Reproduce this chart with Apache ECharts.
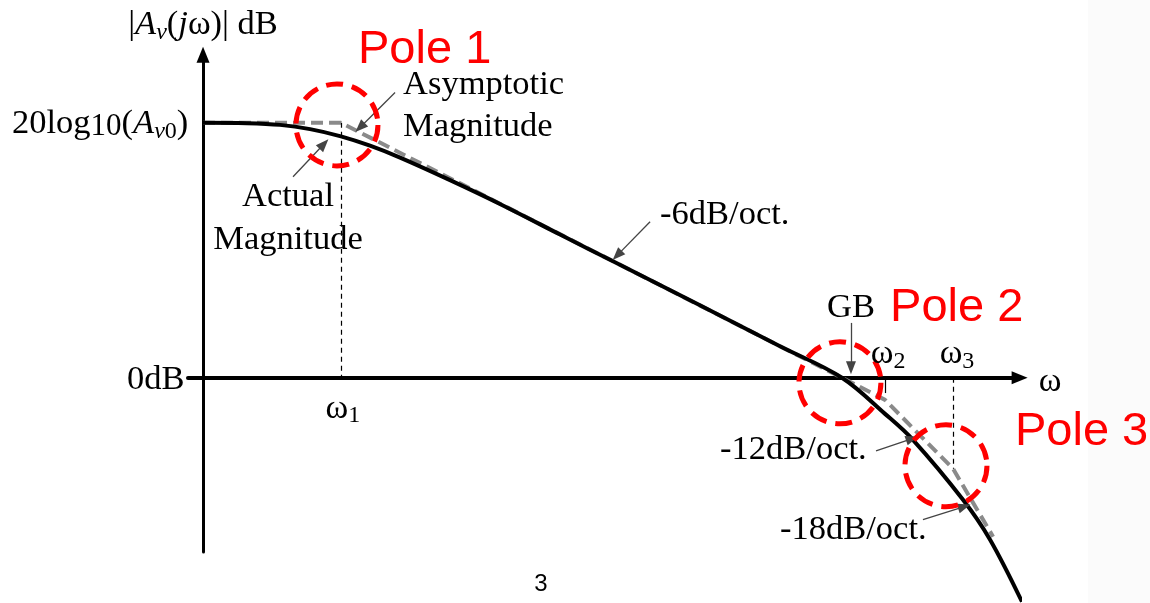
<!DOCTYPE html>
<html>
<head>
<meta charset="utf-8">
<script src="https://cdn.jsdelivr.net/npm/echarts@6/dist/echarts.min.js"></script>
<style>
  html, body { margin: 0; padding: 0; background: #fff; }
  #chart { width: 1150px; height: 603px; }
</style>
</head>
<body>
<div id="chart"></div>
<script>
// Bode magnitude sketch of a three-pole amplifier.
// x = log10(ω) (the |A| axis sits at ω = 1), y = gain in dB.

// actual magnitude curve
const logW     = [0, 0.263, 0.461, 0.641, 0.826, 1.0, 1.18, 1.479, 1.778, 2.138, 2.455, 2.958, 3.455, 3.826, 4.084, 4.251, 4.551, 4.713, 4.904];
const actualDb = [60, 59.9, 59.5, 58.5, 56.8, 54.6, 51.8, 46.5, 40.9, 33.7, 27.4, 17.4, 7.4, 0, -8.5, -14.6, -28.7, -38.1, -52.7];

// straight-line asymptote: flat, then -6, -12, -18 dB/oct
const asymLogW = [0, 0.826, 3.826, 4.084, 4.491, 4.731];
const asymDb   = [60, 60, 0, -5.2, -21.4, -37.4];

// pole frequencies and the asymptote level at each corner
const poleNames    = ['ω1', 'ω2', 'ω3'];
const poleLogW     = [0.826, 4.084, 4.491];
const poleCornerDb = [60, -5.2, -21.4];

// highlighted regions around each pole
const poleTags   = ['Pole 1', 'Pole 2', 'Pole 3'];
const ringLogW   = [0.802, 3.814, 4.449];
const ringDb     = [59.5, -1.2, -20.7];

const av0Db = 60;
const gbLogW = 3.826;
const slopeTags = ['-6dB/oct.', '-12dB/oct.', '-18dB/oct.'];

const SERIF = '"Liberation Serif", "Times New Roman", serif';
const SANS = '"Liberation Sans", Arial, sans-serif';
const INK = '#000';
const RED = '#ff0000';

const richSerif = {
  n:  { fontFamily: SERIF, fontSize: 34.5, color: INK, verticalAlign: 'top' },
  i:  { fontFamily: SERIF, fontSize: 34.5, color: INK, fontStyle: 'italic', verticalAlign: 'top' },
  s:  { fontFamily: SERIF, fontSize: 24, color: INK, verticalAlign: 'top', padding: [13, 0, 0, 0] },
  is: { fontFamily: SERIF, fontSize: 24, color: INK, fontStyle: 'italic', verticalAlign: 'top', padding: [13, 0, 0, 0] },
  d:  { fontFamily: SERIF, fontSize: 31, color: INK, verticalAlign: 'top', padding: [5, 0, 0, 0] }
};

function note(x, y, text, align, extra) {
  return {
    value: [x, y],
    label: Object.assign({
      show: true,
      position: 'inside',
      align: align || 'center',
      verticalAlign: 'middle',
      formatter: text,
      fontFamily: SERIF,
      fontSize: 34.5,
      color: INK,
      opacity: 1,
      rich: richSerif
    }, extra || {})
  };
}

const poleStyle = { fontFamily: SANS, fontSize: 47, color: RED, rich: {} };

const notes = [
  note(0, 82.8, '{n||}{i|A}{is|v}{n|(}{i|j}{n|ω)| dB}'),
  note(-1.144, 59.5, '{n|20log}{d|10}{n|(}{i|A}{is|v}{s|0}{n|)}', 'left'),
  note(-0.455, -0.5, '{n|0dB}', 'left'),
  note(1.198, 68.9, '{n|Asymptotic}', 'left'),
  note(1.198, 59.1, '{n|Magnitude}', 'left'),
  note(0.509, 42.6, '{n|Actual}'),
  note(0.509, 32.5, '{n|Magnitude}'),
  note(2.737, 38.4, '{n|' + slopeTags[0] + '}', 'left'),
  note(gbLogW + 0.054, 16.5, '{n|GB}'),
  note(3.096, -16.9, '{n|' + slopeTags[1] + '}', 'left'),
  note(3.455, -35.8, '{n|' + slopeTags[2] + '}', 'left'),
  note(poleLogW[0] + 0.012, -7.5, '{n|ω}{s|1}'),
  note(poleLogW[1] + 0.018, 5.4, '{n|ω}{s|2}'),
  note(poleLogW[2] + 0.024, 5.4, '{n|ω}{s|3}'),
  note(5.072, -0.9, '{n|ω}'),
  note(0.928, 77.2, poleTags[0], 'left', poleStyle),
  note(4.114, 16.5, poleTags[1], 'left', poleStyle),
  note(4.862, -12.7, poleTags[2], 'left', poleStyle),
  note(2.024, -48.7, '3', 'center', { fontFamily: SANS, fontSize: 24, color: '#000', rich: {} })
];

// thin leader arrows from the captions to the curves
const pointer = (x1, y1, x2, y2) => [{ coord: [x1, y1] }, { coord: [x2, y2] }];
const pointers = [
  pointer(1.150, 67.1, 0.940, 58.9),   // Asymptotic Magnitude
  pointer(0.539, 47.3, 0.724, 55.0),   // Actual Magnitude
  pointer(2.677, 36.7, 2.480, 28.8),   // -6dB/oct.
  pointer(3.880, 12.9, 3.880, 2.35),   // GB
  pointer(4.030, -17.2, 4.247, -14.3), // -12dB/oct.
  pointer(4.311, -33.4, 4.559, -30.3)  // -18dB/oct.
];

// vertical guides from the axis to each asymptote corner
const guides = poleLogW.map((w, k) => {
  const top = k === 0 ? poleCornerDb[k] : 0;
  const bottom = k === 0 ? 0 : (k === 1 ? -3.6 : poleCornerDb[k]);
  return [
    { coord: [w, top], lineStyle: { type: k === 1 ? 'solid' : [5, 4], width: 1.2, color: '#000' } },
    { coord: [w, bottom] }
  ];
});

const chart = echarts.init(document.getElementById('chart'), null, { renderer: 'canvas' });

chart.setOption({
  animation: false,
  backgroundColor: '#ffffff',
  graphic: [{
    type: 'rect',
    z: -10,
    shape: { x: 1088, y: 0, width: 62, height: 603 },
    style: { fill: '#fbfbfb' },
    silent: true
  }],
  grid: {
    left: 188, right: 130.37, top: 54.75, bottom: 51,
    containLabel: false, outerBoundsMode: 'none'
  },
  xAxis: {
    type: 'value', min: -0.09, max: 4.89,
    axisLine: {
      onZero: true, symbol: ['none', 'triangle'], symbolSize: [13, 16],
      lineStyle: { color: '#000', width: 4 }
    },
    axisTick: { show: false }, axisLabel: { show: false }, splitLine: { show: false }
  },
  yAxis: {
    type: 'value', min: -41, max: 76,
    axisLine: {
      onZero: true, symbol: ['none', 'triangle'], symbolSize: [13, 16],
      lineStyle: { color: '#000', width: 3 }
    },
    axisTick: { show: false }, axisLabel: { show: false }, splitLine: { show: false }
  },
  series: [
    {
      name: 'Asymptotic Magnitude',
      type: 'line',
      data: asymLogW.map((w, k) => [w, asymDb[k]]),
      showSymbol: false,
      clip: false,
      z: 2,
      lineStyle: { color: '#8a8a8a', width: 4, type: [12, 6] },
      silent: true
    },
    {
      name: 'Actual Magnitude',
      type: 'line',
      data: logW.map((w, k) => [w, actualDb[k]]),
      smooth: 0.35,
      showSymbol: false,
      clip: false,
      z: 3,
      lineStyle: { color: '#000', width: 4 },
      silent: true
    },
    {
      name: 'guides',
      type: 'line',
      data: [],
      z: 1,
      markLine: {
        silent: true, symbol: ['none', 'none'], label: { show: false },
        lineStyle: { color: '#000', width: 1.2, type: [5, 4] },
        data: guides
      }
    },
    {
      name: 'pointers',
      type: 'line',
      data: [],
      z: 4,
      markLine: {
        silent: true, symbol: ['none', 'triangle'], symbolSize: [10, 13],
        label: { show: false },
        lineStyle: { color: '#444', width: 1.3, type: 'solid' },
        itemStyle: { color: '#000' },
        data: pointers
      }
    },
    {
      name: 'poles',
      type: 'scatter',
      data: ringLogW.map((w, k) => [w, ringDb[k]]),
      symbol: 'circle',
      symbolSize: 82,
      z: 6,
      silent: true,
      clip: false,
      itemStyle: { color: 'rgba(0,0,0,0)', opacity: 1, borderColor: RED, borderWidth: 5, borderType: [17, 9] }
    },
    {
      name: 'notes',
      type: 'scatter',
      data: notes,
      symbolSize: 1,
      z: 7,
      silent: true,
      clip: false,
      itemStyle: { color: 'rgba(0,0,0,0)', opacity: 1 }
    }
  ]
});
</script>
</body>
</html>
